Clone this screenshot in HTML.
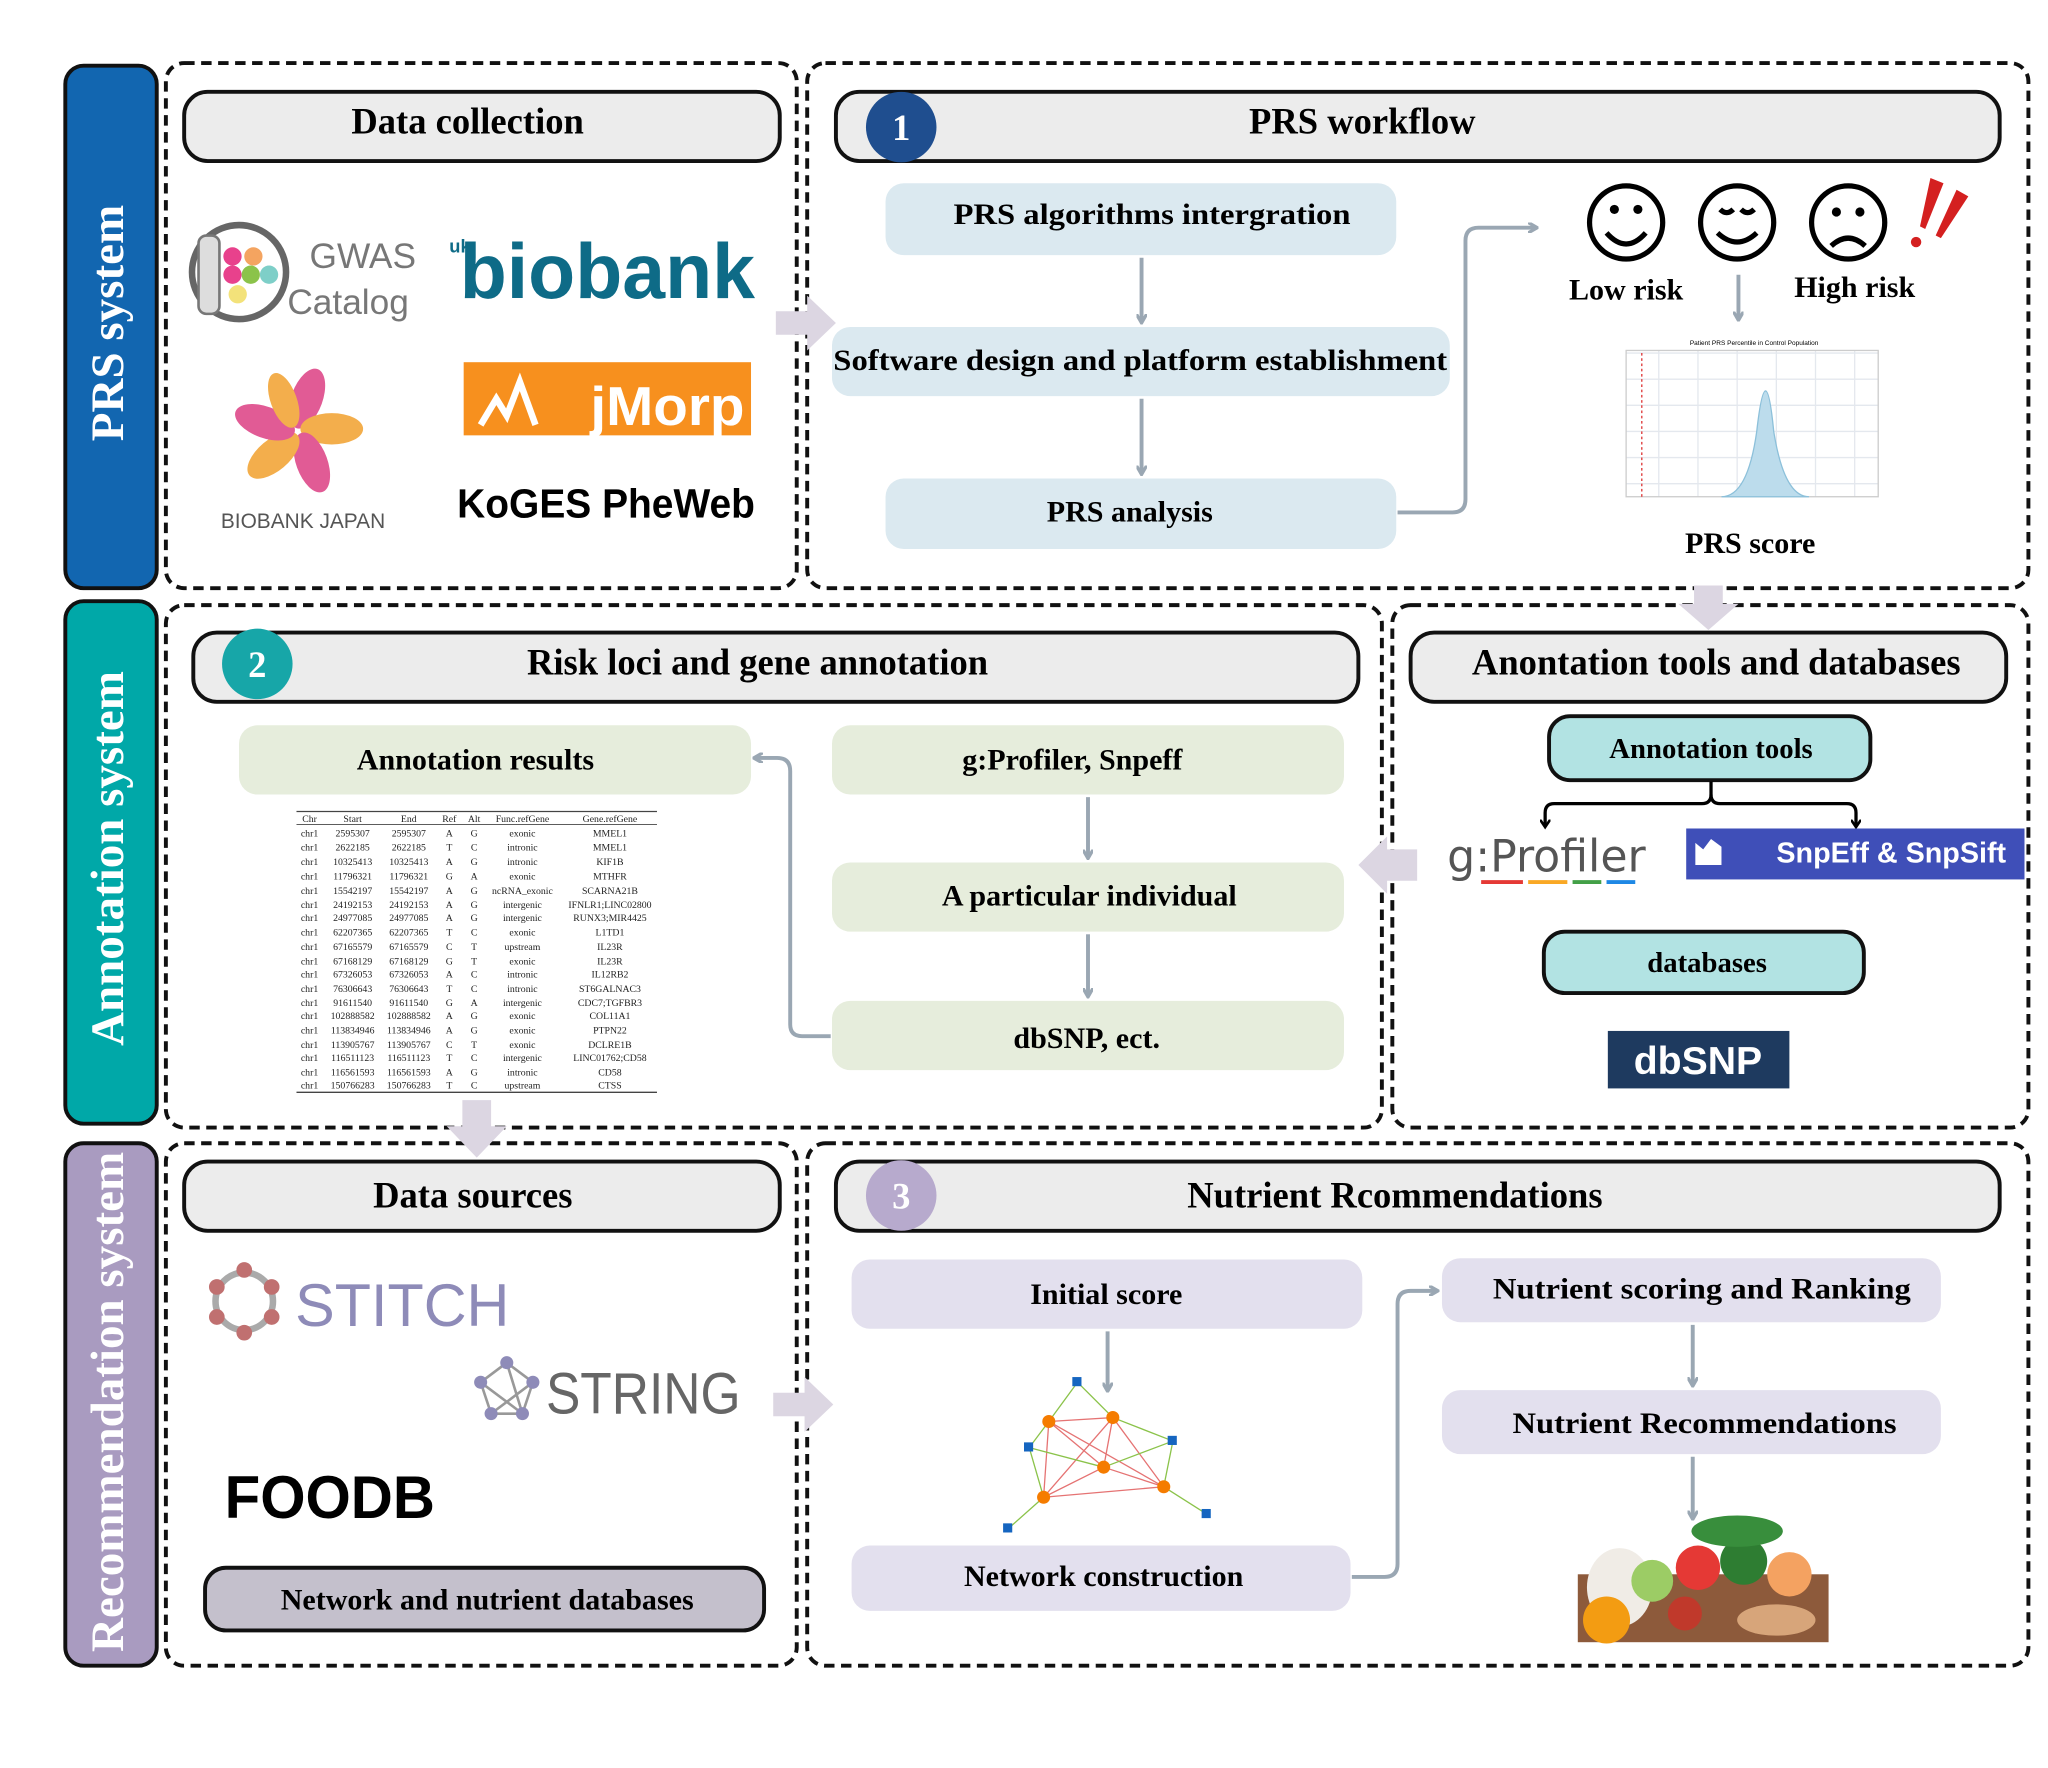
<!DOCTYPE html>
<html><head><meta charset="utf-8"><style>html,body{margin:0;padding:0;background:#fff}svg{display:block}</style></head><body>
<svg width="2048" height="1768" viewBox="0 0 1568 1353" xmlns="http://www.w3.org/2000/svg" font-family="Liberation Serif, serif">
<defs>
<marker id="ah" markerWidth="8" markerHeight="8" refX="6" refY="4" orient="auto" markerUnits="userSpaceOnUse"><path d="M0,0 L7,4 L0,8" fill="none" stroke="#9aa7b3" stroke-width="2.5"/></marker>
<marker id="ak" markerWidth="8" markerHeight="8" refX="5" refY="4" orient="auto" markerUnits="userSpaceOnUse"><path d="M0,0 L6,4 L0,8" fill="none" stroke="#000" stroke-width="2"/></marker>
</defs>
<rect width="1568" height="1353" fill="#fff"/>
<rect x="50" y="50" width="70" height="400" rx="14" fill="#1266b0" stroke="#111" stroke-width="3"/>
<rect x="50" y="460" width="70" height="400" rx="14" fill="#00a8a8" stroke="#111" stroke-width="3"/>
<rect x="50" y="875" width="70" height="400" rx="14" fill="#a99bc0" stroke="#111" stroke-width="3"/>
<g fill="#fff" font-weight="bold" font-size="36" text-anchor="middle">
<text transform="translate(94,247) rotate(-90)">PRS system</text>
<text transform="translate(94,657) rotate(-90)">Annotation system</text>
<text transform="translate(94,1073) rotate(-90)">Recommendation system</text>
</g>
<g fill="none" stroke="#111" stroke-width="3" stroke-dasharray="8,5">
<rect x="127" y="48" width="483" height="402" rx="14"/>
<rect x="618" y="48" width="935" height="402" rx="14"/>
<rect x="127" y="463" width="931" height="400" rx="14"/>
<rect x="1066" y="463" width="487" height="400" rx="14"/>
<rect x="127" y="875" width="483" height="400" rx="14"/>
<rect x="618" y="875" width="935" height="400" rx="14"/>
</g>
<g fill="#dcd6e2">
<path d="M594,238 L618,238 L618,226 L640,247 L618,268 L618,256 L594,256Z"/>
<path d="M1297,448 L1319,448 L1319,462 L1331,462 L1308,482 L1285,462 L1297,462Z"/>
<path d="M1085,650 L1062,650 L1062,640 L1040,662 L1062,684 L1062,674 L1085,674Z"/>
<path d="M354,842 L376,842 L376,862 L388,862 L365,886 L342,862 L354,862Z"/>
<path d="M592,1066 L616,1066 L616,1054 L638,1075 L616,1096 L616,1084 L592,1084Z"/>
</g>
<g stroke="#111" stroke-width="3" fill="#ececec">
<rect x="141" y="70" width="456" height="53" rx="18"/>
<rect x="640" y="70" width="891" height="53" rx="18"/>
<rect x="148" y="484" width="892" height="53" rx="18"/>
<rect x="1080" y="484" width="456" height="53" rx="18"/>
<rect x="141" y="889" width="456" height="53" rx="18"/>
<rect x="640" y="889" width="891" height="53" rx="18"/>
</g>
<circle cx="690" cy="97" r="27" fill="#1f4e8f"/>
<circle cx="197" cy="508" r="27" fill="#17a6a8"/>
<circle cx="690" cy="915" r="27" fill="#b7aacd"/>
<g font-weight="bold" font-size="28" text-anchor="middle" fill="#000">
<text x="690" y="107" fill="#fff">1</text>
<text x="197" y="518" fill="#fff">2</text>
<text x="690" y="925" fill="#fff">3</text>
<text x="358" y="102">Data collection</text>
<text x="1043" y="102">PRS workflow</text>
<text x="580" y="516">Risk loci and gene annotation</text>
<text x="1314" y="516">Anontation tools and databases</text>
<text x="362" y="924">Data sources</text>
<text x="1068" y="924">Nutrient Rcommendations</text>
</g>
<circle cx="183" cy="208" r="36" fill="#fff" stroke="#666" stroke-width="5"/>
<rect x="152" y="180" width="16" height="60" rx="6" fill="#ddd" stroke="#777" stroke-width="2"/>
<circle cx="178" cy="196" r="7" fill="#e8418c"/><circle cx="194" cy="196" r="7" fill="#f4a460"/>
<circle cx="178" cy="210" r="7" fill="#e8418c"/><circle cx="192" cy="210" r="7" fill="#8bc34a"/><circle cx="206" cy="210" r="7" fill="#7ecfc8"/>
<circle cx="182" cy="225" r="7" fill="#f3e27a"/>
<g font-family="Liberation Sans, sans-serif" fill="#777" font-size="27"><text x="237" y="205">GWAS</text><text x="220" y="240">Catalog</text></g>
<text x="352" y="228" font-family="Liberation Sans, sans-serif" font-weight="bold" font-size="60" fill="#0e6b87" textLength="226" lengthAdjust="spacingAndGlyphs">biobank</text>
<text x="344" y="193" font-family="Liberation Sans, sans-serif" font-weight="bold" font-size="14" fill="#0e6b87">uk</text>
<g transform="translate(228,330)">
<ellipse cx="-2" cy="-26" rx="12" ry="24" fill="#e15b95" transform="rotate(20)"/>
<ellipse cx="-2" cy="-26" rx="12" ry="24" fill="#f3ae4c" transform="rotate(90)"/>
<ellipse cx="-2" cy="-26" rx="12" ry="24" fill="#e15b95" transform="rotate(160)"/>
<ellipse cx="-2" cy="-26" rx="12" ry="24" fill="#f3ae4c" transform="rotate(230)"/>
<ellipse cx="-2" cy="-26" rx="12" ry="24" fill="#e15b95" transform="rotate(290)"/>
<ellipse cx="-2" cy="-26" rx="10" ry="22" fill="#f3ae4c" transform="rotate(-20)"/>
</g>
<text x="232" y="404" text-anchor="middle" font-family="Liberation Sans, sans-serif" font-size="16" fill="#555">BIOBANK JAPAN</text>
<rect x="355" y="277" width="220" height="56" fill="#f7901e"/>
<path d="M368,325 L380,305 L388,318 L398,292 L410,325" fill="none" stroke="#fff" stroke-width="5"/>
<text x="452" y="325" font-family="Liberation Sans, sans-serif" font-weight="bold" font-size="42" fill="#fff" textLength="118" lengthAdjust="spacingAndGlyphs">jMorp</text>
<text x="350" y="396" font-family="Liberation Sans, sans-serif" font-weight="bold" font-size="31" fill="#000" textLength="228" lengthAdjust="spacingAndGlyphs">KoGES PheWeb</text>
<g fill="#dbe9f0">
<rect x="678" y="140" width="391" height="55" rx="14"/>
<rect x="637" y="250" width="473" height="53" rx="14"/>
<rect x="678" y="366" width="391" height="54" rx="14"/>
</g>
<g font-weight="bold" font-size="23" text-anchor="middle" fill="#000">
<text x="882" y="171" textLength="304" lengthAdjust="spacingAndGlyphs">PRS algorithms intergration</text>
<text x="873" y="283" textLength="470" lengthAdjust="spacingAndGlyphs">Software design and platform establishment</text>
<text x="865" y="399">PRS analysis</text>
</g>
<g stroke="#9aa7b3" stroke-width="3" fill="none" marker-end="url(#ah)">
<path d="M874,197 L874,246"/>
<path d="M874,305 L874,362"/>
<path d="M1070,392 L1112,392 Q1122,392 1122,382 L1122,184 Q1122,174 1132,174 L1176,174"/>
<path d="M1331,210 L1331,244"/>
</g>
<g stroke="#000" stroke-width="4" fill="none">
<circle cx="1245" cy="170" r="28"/><circle cx="1330" cy="170" r="28"/><circle cx="1415" cy="170" r="28"/>
<path d="M1230,178 Q1245,195 1260,178"/>
<path d="M1315,178 Q1330,192 1345,178"/><path d="M1317,160 Q1322,165 1327,160"/><path d="M1333,160 Q1338,165 1343,160"/>
<path d="M1402,188 Q1415,176 1428,188"/>
</g>
<circle cx="1236" cy="160" r="3.5"/><circle cx="1254" cy="160" r="3.5"/>
<circle cx="1406" cy="162" r="3.5"/><circle cx="1424" cy="162" r="3.5"/>
<g fill="#d42020"><path d="M1478,136 L1488,140 L1474,175 L1470,173Z"/><path d="M1498,145 L1507,150 L1486,182 L1482,180Z"/><circle cx="1467" cy="185" r="4"/></g>
<g font-weight="bold" font-size="23" text-anchor="middle"><text x="1245" y="229">Low risk</text><text x="1420" y="227">High risk</text><text x="1340" y="423">PRS score</text></g>
<g stroke="#e4e8ee" stroke-width="1">
<path d="M1245,270 L1438,270 M1245,290 L1438,290 M1245,310 L1438,310 M1245,330 L1438,330 M1245,350 L1438,350 M1245,370 L1438,370 M1270,268 V380 M1300,268 V380 M1330,268 V380 M1360,268 V380 M1390,268 V380 M1420,268 V380"/>
</g>
<rect x="1245" y="268" width="193" height="112" fill="none" stroke="#ccc"/>
<path d="M1318,380 Q1338,380 1345,330 Q1352,268 1358,330 Q1366,380 1385,380Z" fill="#bcdcec" stroke="#8cc0da"/>
<line x1="1257" y1="270" x2="1257" y2="380" stroke="#d33" stroke-dasharray="2,2"/>
<text x="1343" y="264" font-family="Liberation Sans, sans-serif" font-size="5" text-anchor="middle">Patient PRS Percentile in Control Population</text>
<g fill="#e6eddc">
<rect x="183" y="555" width="392" height="53" rx="14"/>
<rect x="637" y="555" width="392" height="53" rx="14"/>
<rect x="637" y="660" width="392" height="53" rx="14"/>
<rect x="637" y="766" width="392" height="53" rx="14"/>
</g>
<g font-weight="bold" font-size="23" text-anchor="middle">
<text x="364" y="589">Annotation results</text>
<text x="821" y="589">g:Profiler, Snpeff</text>
<text x="834" y="693">A particular individual</text>
<text x="832" y="802">dbSNP, ect.</text>
</g>
<g stroke="#9aa7b3" stroke-width="3" fill="none" marker-end="url(#ah)">
<path d="M833,610 L833,656"/>
<path d="M833,715 L833,762"/>
<path d="M636,793 L614,793 Q605,793 605,784 L605,590 Q605,580 595,580 L578,580"/>
</g>
<g font-size="7.5" text-anchor="middle" fill="#222">
<line x1="227" y1="621" x2="503" y2="621" stroke="#444" stroke-width="1"/>
<line x1="227" y1="631" x2="503" y2="631" stroke="#444" stroke-width="0.7"/>
<line x1="227" y1="836" x2="503" y2="836" stroke="#444" stroke-width="1"/>
<text x="237" y="629">Chr</text><text x="270" y="629">Start</text><text x="313" y="629">End</text><text x="344" y="629">Ref</text><text x="363" y="629">Alt</text><text x="400" y="629">Func.refGene</text><text x="467" y="629">Gene.refGene</text>
<text x="237" y="640">chr1</text><text x="270" y="640">2595307</text><text x="313" y="640">2595307</text><text x="344" y="640">A</text><text x="363" y="640">G</text><text x="400" y="640">exonic</text><text x="467" y="640">MMEL1</text>
<text x="237" y="651">chr1</text><text x="270" y="651">2622185</text><text x="313" y="651">2622185</text><text x="344" y="651">T</text><text x="363" y="651">C</text><text x="400" y="651">intronic</text><text x="467" y="651">MMEL1</text>
<text x="237" y="662">chr1</text><text x="270" y="662">10325413</text><text x="313" y="662">10325413</text><text x="344" y="662">A</text><text x="363" y="662">G</text><text x="400" y="662">intronic</text><text x="467" y="662">KIF1B</text>
<text x="237" y="673">chr1</text><text x="270" y="673">11796321</text><text x="313" y="673">11796321</text><text x="344" y="673">G</text><text x="363" y="673">A</text><text x="400" y="673">exonic</text><text x="467" y="673">MTHFR</text>
<text x="237" y="684">chr1</text><text x="270" y="684">15542197</text><text x="313" y="684">15542197</text><text x="344" y="684">A</text><text x="363" y="684">G</text><text x="400" y="684">ncRNA_exonic</text><text x="467" y="684">SCARNA21B</text>
<text x="237" y="695">chr1</text><text x="270" y="695">24192153</text><text x="313" y="695">24192153</text><text x="344" y="695">A</text><text x="363" y="695">G</text><text x="400" y="695">intergenic</text><text x="467" y="695">IFNLR1;LINC02800</text>
<text x="237" y="705">chr1</text><text x="270" y="705">24977085</text><text x="313" y="705">24977085</text><text x="344" y="705">A</text><text x="363" y="705">G</text><text x="400" y="705">intergenic</text><text x="467" y="705">RUNX3;MIR4425</text>
<text x="237" y="716">chr1</text><text x="270" y="716">62207365</text><text x="313" y="716">62207365</text><text x="344" y="716">T</text><text x="363" y="716">C</text><text x="400" y="716">exonic</text><text x="467" y="716">L1TD1</text>
<text x="237" y="727">chr1</text><text x="270" y="727">67165579</text><text x="313" y="727">67165579</text><text x="344" y="727">C</text><text x="363" y="727">T</text><text x="400" y="727">upstream</text><text x="467" y="727">IL23R</text>
<text x="237" y="738">chr1</text><text x="270" y="738">67168129</text><text x="313" y="738">67168129</text><text x="344" y="738">G</text><text x="363" y="738">T</text><text x="400" y="738">exonic</text><text x="467" y="738">IL23R</text>
<text x="237" y="748">chr1</text><text x="270" y="748">67326053</text><text x="313" y="748">67326053</text><text x="344" y="748">A</text><text x="363" y="748">C</text><text x="400" y="748">intronic</text><text x="467" y="748">IL12RB2</text>
<text x="237" y="759">chr1</text><text x="270" y="759">76306643</text><text x="313" y="759">76306643</text><text x="344" y="759">T</text><text x="363" y="759">C</text><text x="400" y="759">intronic</text><text x="467" y="759">ST6GALNAC3</text>
<text x="237" y="770">chr1</text><text x="270" y="770">91611540</text><text x="313" y="770">91611540</text><text x="344" y="770">G</text><text x="363" y="770">A</text><text x="400" y="770">intergenic</text><text x="467" y="770">CDC7;TGFBR3</text>
<text x="237" y="780">chr1</text><text x="270" y="780">102888582</text><text x="313" y="780">102888582</text><text x="344" y="780">A</text><text x="363" y="780">G</text><text x="400" y="780">exonic</text><text x="467" y="780">COL11A1</text>
<text x="237" y="791">chr1</text><text x="270" y="791">113834946</text><text x="313" y="791">113834946</text><text x="344" y="791">A</text><text x="363" y="791">G</text><text x="400" y="791">exonic</text><text x="467" y="791">PTPN22</text>
<text x="237" y="802">chr1</text><text x="270" y="802">113905767</text><text x="313" y="802">113905767</text><text x="344" y="802">C</text><text x="363" y="802">T</text><text x="400" y="802">exonic</text><text x="467" y="802">DCLRE1B</text>
<text x="237" y="812">chr1</text><text x="270" y="812">116511123</text><text x="313" y="812">116511123</text><text x="344" y="812">T</text><text x="363" y="812">C</text><text x="400" y="812">intergenic</text><text x="467" y="812">LINC01762;CD58</text>
<text x="237" y="823">chr1</text><text x="270" y="823">116561593</text><text x="313" y="823">116561593</text><text x="344" y="823">A</text><text x="363" y="823">G</text><text x="400" y="823">intronic</text><text x="467" y="823">CD58</text>
<text x="237" y="833">chr1</text><text x="270" y="833">150766283</text><text x="313" y="833">150766283</text><text x="344" y="833">T</text><text x="363" y="833">C</text><text x="400" y="833">upstream</text><text x="467" y="833">CTSS</text>
</g>
<rect x="1186" y="548" width="246" height="49" rx="16" fill="#b2e3e3" stroke="#111" stroke-width="3"/>
<rect x="1182" y="713" width="245" height="47" rx="16" fill="#b2e3e3" stroke="#111" stroke-width="3"/>
<g font-weight="bold" font-size="22" text-anchor="middle"><text x="1310" y="580">Annotation tools</text><text x="1307" y="744">databases</text></g>
<g stroke="#000" stroke-width="2.5" fill="none">
<path d="M1310,598 L1310,608 Q1310,615 1303,615 L1190,615 Q1183,615 1183,622 L1183,632" marker-end="url(#ak)"/>
<path d="M1310,608 Q1310,615 1317,615 L1414,615 Q1421,615 1421,622 L1421,632" marker-end="url(#ak)"/>
</g>
<text x="1108" y="667" font-family="DejaVu Sans, sans-serif" font-size="34" fill="#555" textLength="152" lengthAdjust="spacingAndGlyphs">g:Profiler</text>
<g stroke-width="3"><line x1="1134" y1="675" x2="1166" y2="675" stroke="#e53935"/><line x1="1170" y1="675" x2="1200" y2="675" stroke="#f9a825"/><line x1="1204" y1="675" x2="1226" y2="675" stroke="#43a047"/><line x1="1230" y1="675" x2="1252" y2="675" stroke="#1e88e5"/></g>
<rect x="1291" y="634" width="259" height="39" fill="#3f4fb8"/>
<path d="M1298,645 L1304,650 L1310,642 L1318,648 L1318,662 L1298,662Z" fill="#fff"/>
<text x="1448" y="660" text-anchor="middle" font-family="Liberation Sans, sans-serif" font-weight="bold" font-size="22" fill="#fff">SnpEff &amp; SnpSift</text>
<rect x="1231" y="789" width="139" height="44" fill="#1e3a5f"/>
<text x="1300" y="822" text-anchor="middle" font-family="Liberation Sans, sans-serif" font-weight="bold" font-size="30" fill="#fff">dbSNP</text>
<circle cx="187" cy="996" r="22" fill="none" stroke="#aaa" stroke-width="5"/>
<g fill="#c07070"><circle cx="187" cy="972" r="6"/><circle cx="208" cy="985" r="6"/><circle cx="208" cy="1008" r="6"/><circle cx="187" cy="1020" r="6"/><circle cx="166" cy="1008" r="6"/><circle cx="166" cy="985" r="6"/></g>
<text x="226" y="1015" font-family="Liberation Sans, sans-serif" font-size="46" fill="#8e8bb8" textLength="164" lengthAdjust="spacingAndGlyphs">STITCH</text>
<g stroke="#999" stroke-width="2" fill="none"><path d="M388,1043 L408,1058 L400,1082 L376,1082 L368,1058Z M388,1043 L400,1082 M408,1058 L376,1082 M368,1058 L400,1082"/></g>
<g fill="#8e8bb8"><circle cx="388" cy="1043" r="5"/><circle cx="408" cy="1058" r="5"/><circle cx="400" cy="1082" r="5"/><circle cx="376" cy="1082" r="5"/><circle cx="368" cy="1058" r="5"/></g>
<text x="418" y="1082" font-family="Liberation Sans, sans-serif" font-size="45" fill="#666" textLength="149" lengthAdjust="spacingAndGlyphs">STRING</text>
<text x="172" y="1162" font-family="Liberation Sans, sans-serif" font-weight="bold" font-size="46" fill="#000" textLength="161" lengthAdjust="spacingAndGlyphs">FOODB</text>
<rect x="157" y="1200" width="428" height="48" rx="16" fill="#c4c0cc" stroke="#111" stroke-width="3"/>
<text x="373" y="1232" text-anchor="middle" font-weight="bold" font-size="23">Network and nutrient databases</text>
<g fill="#e3e0ee">
<rect x="652" y="964" width="391" height="53" rx="14"/>
<rect x="652" y="1183" width="382" height="50" rx="14"/>
<rect x="1104" y="963" width="382" height="49" rx="14"/>
<rect x="1104" y="1064" width="382" height="49" rx="14"/>
</g>
<g font-weight="bold" font-size="23" text-anchor="middle">
<text x="847" y="998">Initial score</text>
<text x="845" y="1214">Network construction</text>
<text x="1303" y="994" textLength="320" lengthAdjust="spacingAndGlyphs">Nutrient scoring and Ranking</text>
<text x="1305" y="1097" textLength="294" lengthAdjust="spacingAndGlyphs">Nutrient Recommendations</text>
</g>
<g stroke="#9aa7b3" stroke-width="3" fill="none" marker-end="url(#ah)">
<path d="M848,1019 L848,1064"/>
<path d="M1296,1014 L1296,1060"/>
<path d="M1296,1115 L1296,1162"/>
<path d="M1035,1207 L1060,1207 Q1070,1207 1070,1197 L1070,998 Q1070,988 1080,988 L1100,988"/>
</g>
<g stroke="#e57373" stroke-width="1" fill="none">
<path d="M803,1088 L852,1085 L845,1123 L799,1146 Z M803,1088 L845,1123 M852,1085 L799,1146 M852,1085 L891,1138 M845,1123 L891,1138 M803,1088 L891,1138 M799,1146 L891,1138"/>
</g>
<g stroke="#8bc34a" stroke-width="1" fill="none">
<path d="M825,1058 L803,1088 M825,1058 L852,1085 M788,1108 L803,1088 M788,1108 L799,1146 M898,1103 L852,1085 M898,1103 L891,1138 M772,1170 L799,1146 M924,1159 L891,1138 M788,1108 L845,1123 M898,1103 L845,1123"/>
</g>
<g fill="#f57c00"><circle cx="803" cy="1088" r="5"/><circle cx="852" cy="1085" r="5"/><circle cx="845" cy="1123" r="5"/><circle cx="799" cy="1146" r="5"/><circle cx="891" cy="1138" r="5"/></g>
<g fill="#1565c0"><rect x="821" y="1054" width="7" height="7"/><rect x="784" y="1104" width="7" height="7"/><rect x="894" y="1099" width="7" height="7"/><rect x="768" y="1166" width="7" height="7"/><rect x="920" y="1155" width="7" height="7"/></g>
<g>
<rect x="1208" y="1205" width="192" height="52" fill="#8d5a3b"/>
<ellipse cx="1240" cy="1215" rx="25" ry="30" fill="#f0ece6"/>
<circle cx="1230" cy="1240" r="18" fill="#f39c12"/>
<circle cx="1265" cy="1210" r="16" fill="#9ccc65"/>
<circle cx="1300" cy="1200" r="17" fill="#e53935"/>
<circle cx="1335" cy="1195" r="18" fill="#2e7d32"/>
<circle cx="1370" cy="1205" r="17" fill="#f4a261"/>
<ellipse cx="1330" cy="1172" rx="35" ry="12" fill="#388e3c"/>
<circle cx="1290" cy="1235" r="13" fill="#c0392b"/>
<ellipse cx="1360" cy="1240" rx="30" ry="12" fill="#d7a57a"/>
</g>
</svg>
</body></html>
